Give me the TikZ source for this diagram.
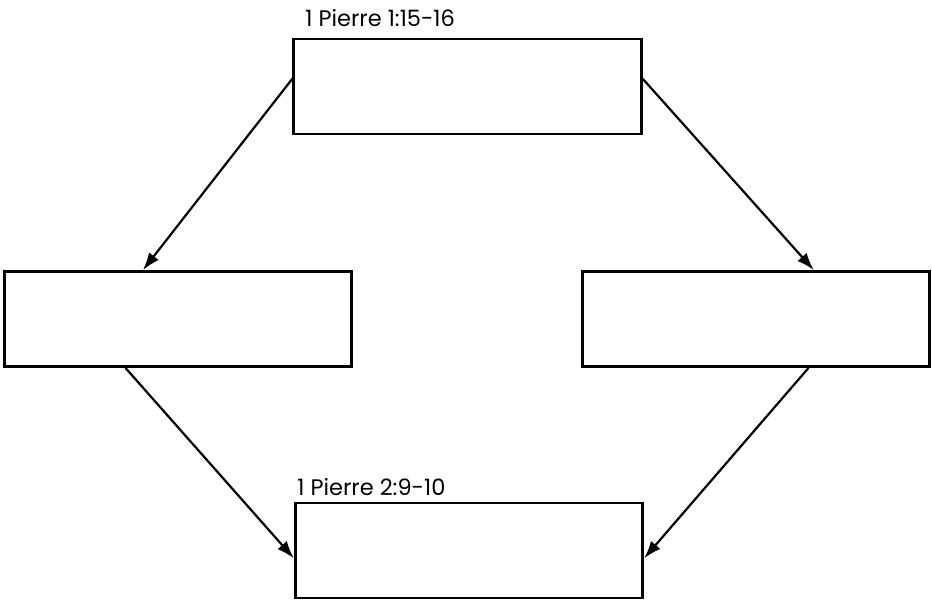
\documentclass[tikz,border=0pt]{standalone}
\usepackage{fontspec}
\setmainfont{Poppins}
\usetikzlibrary{positioning,calc,arrows.meta}

\begin{document}
\begin{tikzpicture}[x=0.02cm,y=-0.02cm,
	box/.style={draw,line width=1.6pt,minimum width=6.95cm,minimum height=1.9cm,inner sep=0pt},
	link/.style={-{Latex[length=10pt,width=7pt]},line width=1.25pt},
	ref/.style={font=\fontsize{12.8}{15}\selectfont,inner sep=0pt,anchor=south west}]
\useasboundingbox (0,0) rectangle (932,601);

\node[box](top) at (467.5,86.5) {};
\node[box](left) at (178,319) {};
\node[box](right) at (756,319) {};
\node[box](bottom) at (469,550.5) {};

\node[ref] (reftop) at (305,27) {1 Pierre 1:15-16};
\node[ref] (refbottom) at (297,496) {1 Pierre 2:9-10};

% arrows
\draw[link] ($(top.north west)!0.42!(top.south west)$) -- ($(left.north west)!0.40!(left.north east)$);
\draw[link] ($(top.north east)!0.42!(top.south east)$) -- ($(right.north west)!0.665!(right.north east)$);
\draw[link] ($(left.south west)!0.35!(left.south east)$) -- ($(bottom.north west)!0.58!(bottom.south west)$);
\draw[link] ($(right.south west)!0.65!(right.south east)$) -- ($(bottom.north east)!0.58!(bottom.south east)$);

\end{tikzpicture}
\end{document}
